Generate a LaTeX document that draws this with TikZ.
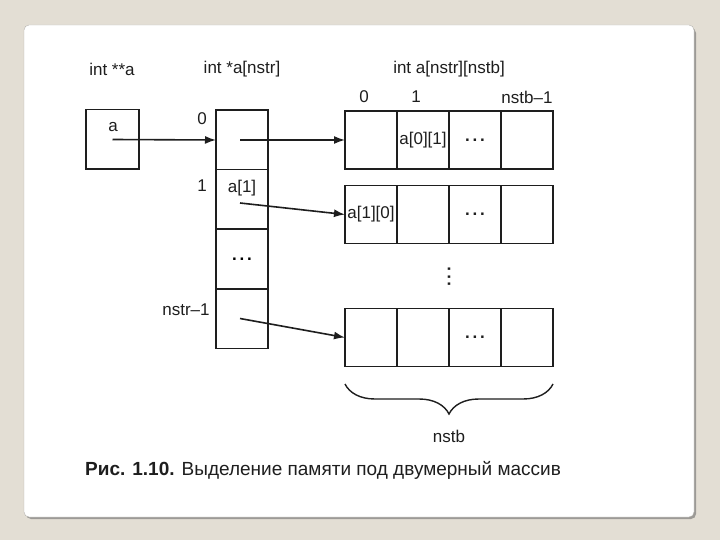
\documentclass[tikz,border=0pt]{standalone}
\usepackage{fontspec}
\setmainfont{Liberation Sans}
\usetikzlibrary{positioning,arrows.meta,decorations.pathreplacing}
\definecolor{slidebg}{HTML}{E3DED4}
\definecolor{panelshadow}{HTML}{9C9A96}
\definecolor{panelline}{HTML}{B4B2AE}
\definecolor{ink}{HTML}{1E1E1E}
\newcommand{\dotsh}{\textbf{.\,.\,.}}
\tikzset{
	cell/.style = {draw = ink, line width = 1.5pt, minimum width = 52pt, minimum height = 59.5pt, inner sep = 0pt, outer sep = 0pt, font = \fontsize{17}{17}\selectfont},
	rowcell/.style = {cell, minimum height = 58pt},
	txt/.style = {inner sep = 0pt, text = ink, font = \fontsize{17}{17}\selectfont},
	ptr/.style = {draw = ink, line width = 1.6pt, -{Latex[length = 11pt, width = 8pt]}},
	brc/.style = {draw = ink, line width = 1.4pt, decorate, decoration = {brace, amplitude = 30pt}}
}
\begin{document}
\begin{tikzpicture}[x = 1pt, y = -1pt]
			      \fill[slidebg] (0,0) rectangle (720,540);
			      \fill[panelshadow, rounded corners = 5pt] (26,28) rectangle (696,519);
			      \filldraw[fill = white, draw = panelline, rounded corners = 5pt] (24,25) rectangle (694,517);
			      \useasboundingbox (0,0) rectangle (720,540);

			      \node [txt] (headpp) at (112,69) {int **a};
			      \node [txt] (headp) at (242,69) {int *a[nstr]};
			      \node [txt] (heada) at (449,69) {int a[nstr][nstb]};

			      \node [cell, minimum width = 53pt] (pa) at (112.5,139.5) {};
			      \node [txt] (patext) at (113,127) {a};

			      \node [cell] (p0) at (242,140) {};
			      \node [cell, below = 0pt of p0] (p1) {};
			      \node [cell, below = 0pt of p1] (p2) {\dotsh};
			      \node [cell, below = 0pt of p2] (p3) {};
			      \node [txt] (p1text) at (242,188) {a[1]};

			      \node [txt] (pidx0) at (202,119) {0};
			      \node [txt] (pidx1) at (202,186) {1};
			      \node [txt] (pidxn) at (186,310) {nstr–1};

			      \foreach \r/\y in {0/140, 1/214.5, 2/337.5}{
					      \node [rowcell] (r\r c0) at (371,\y) {};
					      \foreach \c [count = \p from 0] in {1,2,3}{
							      \node [rowcell, right = 0pt of r\r c\p] (r\r c\c) {};
						      }
					      \node [txt] (r\r dots) at (r\r c2) {\dotsh};
				      }
			      \node [txt] (a01) at (r0c1) {a[0][1]};
			      \node [txt] (a10) at (r1c0) {a[1][0]};
			      \node [txt, rotate = 90] (vdots) at (449,277) {\dotsh};

			      \node [txt] (cidx0) at (364,97) {0};
			      \node [txt] (cidx1) at (416,97) {1};
			      \node [txt] (cidxn) at (527,97) {nstb–1};

			      \draw [ptr] (pa.center) -- (p0.west);
			      \draw [ptr] ([xshift = -2pt]p0.center) -- (r0c0.west);
			      \draw [ptr] ([xshift = -2pt, yshift = -3.5pt]p1.center) -- (r1c0.west);
			      \draw [ptr] ([xshift = -2pt]p3.center) -- (r2c0.west);

			      \draw [brc] ([yshift = -17.5pt]r2c3.south east) -- ([yshift = -17.5pt]r2c0.south west);
			      \node [txt] (nstb) at (449,436) {nstb};

			      \node [txt, font = \fontsize{19}{19}\selectfont] (caption) at (323,470) {\textbf{Рис. 1.10.} Выделение памяти под двумерный массив};

		      \end{tikzpicture}
\end{document}
